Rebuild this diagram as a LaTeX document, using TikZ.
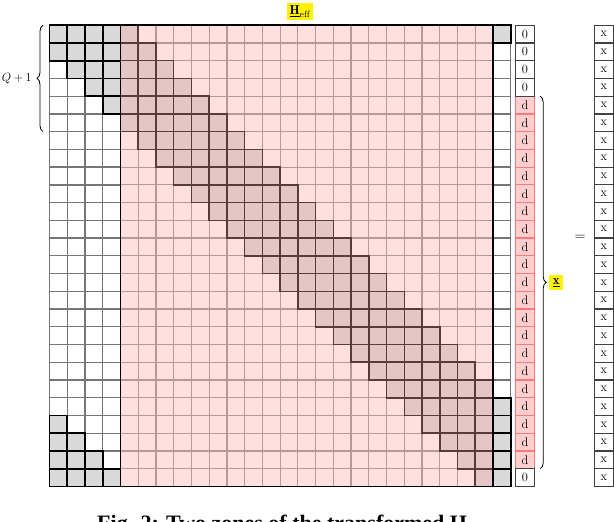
\documentclass[tikz,border=0pt]{standalone}
\usepackage{fontspec}
\newfontfamily\capfont{Liberation Serif}
\usetikzlibrary{decorations.pathreplacing}
\definecolor{cgrey}{RGB}{217,217,217}
\definecolor{cwborder}{RGB}{118,118,118}
\definecolor{clpink}{RGB}{255,224,225}
\definecolor{clpborder}{RGB}{185,152,154}
\definecolor{cdpink}{RGB}{229,198,198}
\definecolor{cdpborder}{RGB}{92,58,58}
\definecolor{cdfill}{RGB}{255,206,206}
\definecolor{cdborder}{RGB}{255,120,120}
\definecolor{cvborder}{RGB}{65,65,65}
\definecolor{cyel}{RGB}{255,242,0}
\begin{document}
\begin{tikzpicture}[x=1pt,y=-1pt,
  cellbase/.style={rectangle,inner sep=0pt,outer sep=0pt,minimum width=17.74pt,minimum height=17.74pt},
  wcell/.style={cellbase,fill=white},
  lpcell/.style={cellbase,fill=clpink},
  dpcell/.style={cellbase,fill=cdpink},
  gcell/.style={cellbase,fill=cgrey},
  wline/.style={draw=cwborder,line width=1.3pt},
  lpline/.style={draw=clpborder,line width=1.2pt},
  dpline/.style={draw=cdpborder,line width=1.6pt},
  gline/.style={draw=black,line width=1.8pt},
  vecbase/.style={rectangle,inner sep=0pt,outer sep=0pt,minimum height=17.74pt,font=\fontsize{12.5}{14}\selectfont},
  zcell/.style={vecbase,minimum width=18.4pt,fill=white,draw=cvborder,line width=1.2pt},
  dcell/.style={vecbase,minimum width=18.4pt,fill=cdfill,draw=cdborder,line width=1.2pt},
  xcell/.style={vecbase,minimum width=19pt,fill=white,draw=cvborder,line width=1.2pt},
  frameline/.style={draw=black,line width=1.8pt},
  bracestyle/.style={decorate,decoration={brace,amplitude=6pt},line width=0.8pt},
  yellabel/.style={fill=cyel,inner sep=3pt,font=\fontsize{13}{15}\selectfont}
]
\useasboundingbox (0,0) rectangle (614,522);
\def\X{58.37}
\def\Y{34.07}
\def\C{17.74}
% fills
\foreach \r in {0,...,25}{
  \foreach \c in {0,...,25}{
    \pgfmathtruncatemacro\dd{mod(\c-\r+27,26)}
    \pgfmathtruncatemacro\side{or(\c<4,\c==25)}
    \ifnum\dd>5
      \ifnum\side=1
        \node[wcell] (m-\r-\c) at ({\X+\c*\C},{\Y+\r*\C}) {};
      \else
        \node[lpcell] (m-\r-\c) at ({\X+\c*\C},{\Y+\r*\C}) {};
      \fi
    \else
      \ifnum\side=1
        \node[gcell] (m-\r-\c) at ({\X+\c*\C},{\Y+\r*\C}) {};
      \else
        \node[dpcell] (m-\r-\c) at ({\X+\c*\C},{\Y+\r*\C}) {};
      \fi
    \fi
  }
}
% light borders
\foreach \r in {0,...,25}{
  \foreach \c in {0,...,25}{
    \pgfmathtruncatemacro\dd{mod(\c-\r+27,26)}
    \pgfmathtruncatemacro\side{or(\c<4,\c==25)}
    \ifnum\dd>5
      \ifnum\side=1
        \draw[wline] (m-\r-\c.north west) rectangle (m-\r-\c.south east);
      \else
        \draw[lpline] (m-\r-\c.north west) rectangle (m-\r-\c.south east);
      \fi
    \fi
  }
}
% band borders
\foreach \r in {0,...,25}{
  \foreach \c in {4,...,24}{
    \pgfmathtruncatemacro\dd{mod(\c-\r+27,26)}
    \ifnum\dd<6
      \draw[dpline] (m-\r-\c.north west) rectangle (m-\r-\c.south east);
    \fi
  }
}
\foreach \r in {0,...,25}{
  \foreach \c in {0,1,2,3,25}{
    \pgfmathtruncatemacro\dd{mod(\c-\r+27,26)}
    \ifnum\dd<6
      \draw[gline] (m-\r-\c.north west) rectangle (m-\r-\c.south east);
    \fi
  }
}
% frame of pink block
\draw[frameline] (m-0-4.north west) rectangle (m-25-24.south east);
% d / 0 vector
\foreach \r in {4,...,24}{
  \node[dcell] (v-\r) at (525,{\Y+\r*\C}) {d};
}
\foreach \r in {0,1,2,3,25}{
  \node[zcell] (v-\r) at (525,{\Y+\r*\C}) {0};
}
% x vector
\foreach \r in {0,...,25}{
  \node[xcell] (x-\r) at (603.8,{\Y+\r*\C}) {x};
}
% labels
\node[yellabel] (heff) at (300,11.7) {$\underline{\mathbf{H}}_{\mathrm{eff}}$};
\draw[bracestyle] ([xshift=-6.5pt]m-5-0.south west) -- ([xshift=-6.5pt]m-0-0.north west)
  coordinate[midway] (lbmid);
\node[anchor=east,font=\fontsize{12}{14}\selectfont] (qlabel) at ([xshift=-8pt]lbmid) {$Q+1$};
\draw[bracestyle] ([xshift=6pt]v-4.north east) -- ([xshift=6pt]v-24.south east)
  coordinate[midway] (rbmid);
\node[yellabel,anchor=west,inner sep=3.5pt] (xlabel) at ([xshift=9pt]rbmid) {$\underline{\mathbf{x}}$};
\node[font=\fontsize{14}{15}\selectfont] (eq) at (580,238) {$=$};
% caption (cut by the page edge)
\begin{scope}
\clip (0,0) rectangle (614,522);
\node[anchor=base west,inner sep=0pt,font=\capfont\bfseries\fontsize{22}{26}\selectfont] (cap) at (97,530)
  {Fig. 2: Two zones of the transformed H\textsubscript{eff}};
\end{scope}
\end{tikzpicture}
\end{document}
